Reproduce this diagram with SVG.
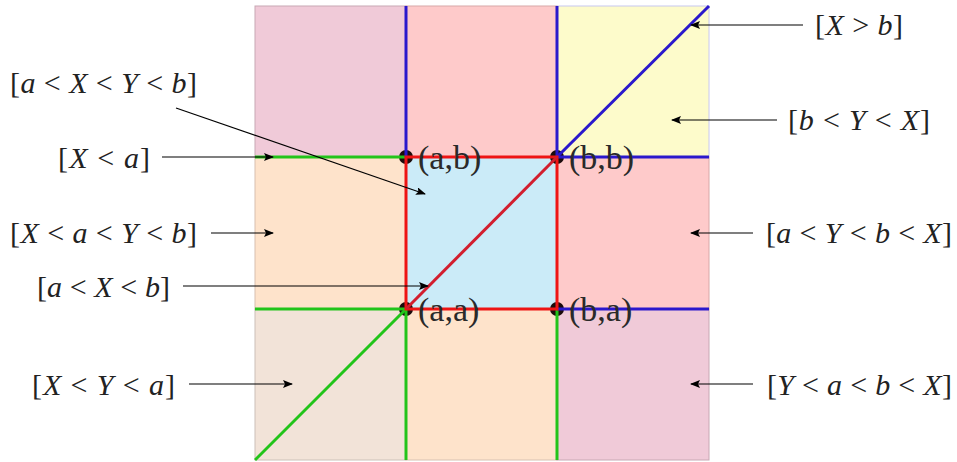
<svg xmlns="http://www.w3.org/2000/svg" width="957" height="462" viewBox="0 0 957 462">
<style>
.m{font-family:"Liberation Serif","Times New Roman",serif;font-size:30px;fill:#222}
.v{font-style:italic}
.p{font-family:"Liberation Serif","Times New Roman",serif;font-size:34px;fill:#2a2a2a}
.ar{stroke:#000;stroke-width:1.2;fill:none;marker-end:url(#ah)}
.g{stroke:#22c41a;stroke-width:3;fill:none}
.b{stroke:#2a18cc;stroke-width:3;fill:none}
.r{stroke:#ee1414;stroke-width:3;fill:none}
.reg{stroke-width:1}
.dot{fill:#1c0c0c}
</style>
<defs>
<marker id="ah" viewBox="0 0 10 8" refX="9" refY="4" markerWidth="10" markerHeight="8" markerUnits="userSpaceOnUse" orient="auto">
<path d="M0,0 L10,4 L0,8 L2,4 Z" fill="#000"/>
</marker>
</defs>
<rect width="957" height="462" fill="#fff"/>
<g id="regions">
<rect class="reg" x="255" y="6" width="151" height="151" fill="#f0cad8" stroke="#c8a8b4"/>
<rect class="reg" x="406" y="6" width="151" height="151" fill="#fecaca" stroke="#d8a8a8"/>
<rect class="reg" x="557" y="6" width="152" height="151" fill="#fdfbcb" stroke="#c8c8f0"/>
<rect class="reg" x="255" y="157" width="151" height="152" fill="#fee3cb" stroke="#d8c0b0"/>
<rect class="reg" x="406" y="157" width="151" height="152" fill="#cbebf8" stroke="#a8c8d8"/>
<rect class="reg" x="557" y="157" width="152" height="152" fill="#fecaca" stroke="#d8a8a8"/>
<rect class="reg" x="255" y="309" width="151" height="151" fill="#f2e3d8" stroke="#ccc0b8"/>
<rect class="reg" x="406" y="309" width="151" height="151" fill="#fee3cb" stroke="#d8c0b0"/>
<rect class="reg" x="557" y="309" width="152" height="151" fill="#f0cad8" stroke="#c8a8b4"/>
</g>
<g id="points">
<circle class="dot" cx="406" cy="157" r="7"/>
<circle class="dot" cx="557" cy="157" r="7"/>
<circle class="dot" cx="406" cy="309" r="7"/>
<circle class="dot" cx="557" cy="309" r="7"/>
</g>
<g id="boundaries">
<line class="g" x1="255" y1="157" x2="406" y2="157"/>
<line class="g" x1="255" y1="309" x2="406" y2="309"/>
<line class="g" x1="255" y1="460" x2="406" y2="309"/>
<line class="g" x1="406" y1="309" x2="406" y2="460"/>
<line class="g" x1="557" y1="309" x2="557" y2="460"/>
<line class="b" x1="406" y1="6" x2="406" y2="157"/>
<line class="b" x1="557" y1="6" x2="557" y2="157"/>
<line class="b" x1="557" y1="157" x2="709" y2="157"/>
<line class="b" x1="557" y1="309" x2="709" y2="309"/>
<line class="b" x1="557" y1="157" x2="709" y2="6" stroke="#2626e0"/>
<rect class="r" x="406" y="157" width="151" height="152"/>
<line x1="406" y1="309" x2="557" y2="157" stroke="#d21e2e" stroke-width="3"/>
</g>
<g id="point-labels">
<text class="p" x="418" y="169">(a,b)</text>
<text class="p" x="569" y="169">(b,b)</text>
<text class="p" x="418" y="321">(a,a)</text>
<text class="p" x="569" y="321">(b,a)</text>
</g>
<g id="connectors">
<line class="ar" x1="803" y1="25" x2="691" y2="25"/>
<line class="ar" x1="777" y1="120" x2="672" y2="120"/>
<line class="ar" x1="753" y1="233" x2="691" y2="233"/>
<line class="ar" x1="753" y1="384" x2="691" y2="384"/>
<line class="ar" x1="176" y1="108" x2="425" y2="194"/>
<line class="ar" x1="162" y1="157" x2="273" y2="157"/>
<line class="ar" x1="211" y1="233" x2="273" y2="233"/>
<line class="ar" x1="183" y1="286" x2="428" y2="286"/>
<line class="ar" x1="189" y1="384" x2="292" y2="384"/>
</g>
<g id="labels">
<text class="m" x="815" y="35" textLength="88">[<tspan class="v">X</tspan> &gt; <tspan class="v">b</tspan>]</text>
<text class="m" x="788" y="130" textLength="142">[<tspan class="v">b</tspan> &lt; <tspan class="v">Y</tspan> &lt; <tspan class="v">X</tspan>]</text>
<text class="m" x="766" y="243" textLength="186">[<tspan class="v">a</tspan> &lt; <tspan class="v">Y</tspan> &lt; <tspan class="v">b</tspan> &lt; <tspan class="v">X</tspan>]</text>
<text class="m" x="767" y="395" textLength="185">[<tspan class="v">Y</tspan> &lt; <tspan class="v">a</tspan> &lt; <tspan class="v">b</tspan> &lt; <tspan class="v">X</tspan>]</text>
<text class="m" x="10" y="93" textLength="187">[<tspan class="v">a</tspan> &lt; <tspan class="v">X</tspan> &lt; <tspan class="v">Y</tspan> &lt; <tspan class="v">b</tspan>]</text>
<text class="m" x="58" y="168" textLength="92">[<tspan class="v">X</tspan> &lt; <tspan class="v">a</tspan>]</text>
<text class="m" x="10" y="243" textLength="187">[<tspan class="v">X</tspan> &lt; <tspan class="v">a</tspan> &lt; <tspan class="v">Y</tspan> &lt; <tspan class="v">b</tspan>]</text>
<text class="m" x="37" y="297" textLength="133">[<tspan class="v">a</tspan> &lt; <tspan class="v">X</tspan> &lt; <tspan class="v">b</tspan>]</text>
<text class="m" x="32" y="395" textLength="143">[<tspan class="v">X</tspan> &lt; <tspan class="v">Y</tspan> &lt; <tspan class="v">a</tspan>]</text>
</g>
</svg>
